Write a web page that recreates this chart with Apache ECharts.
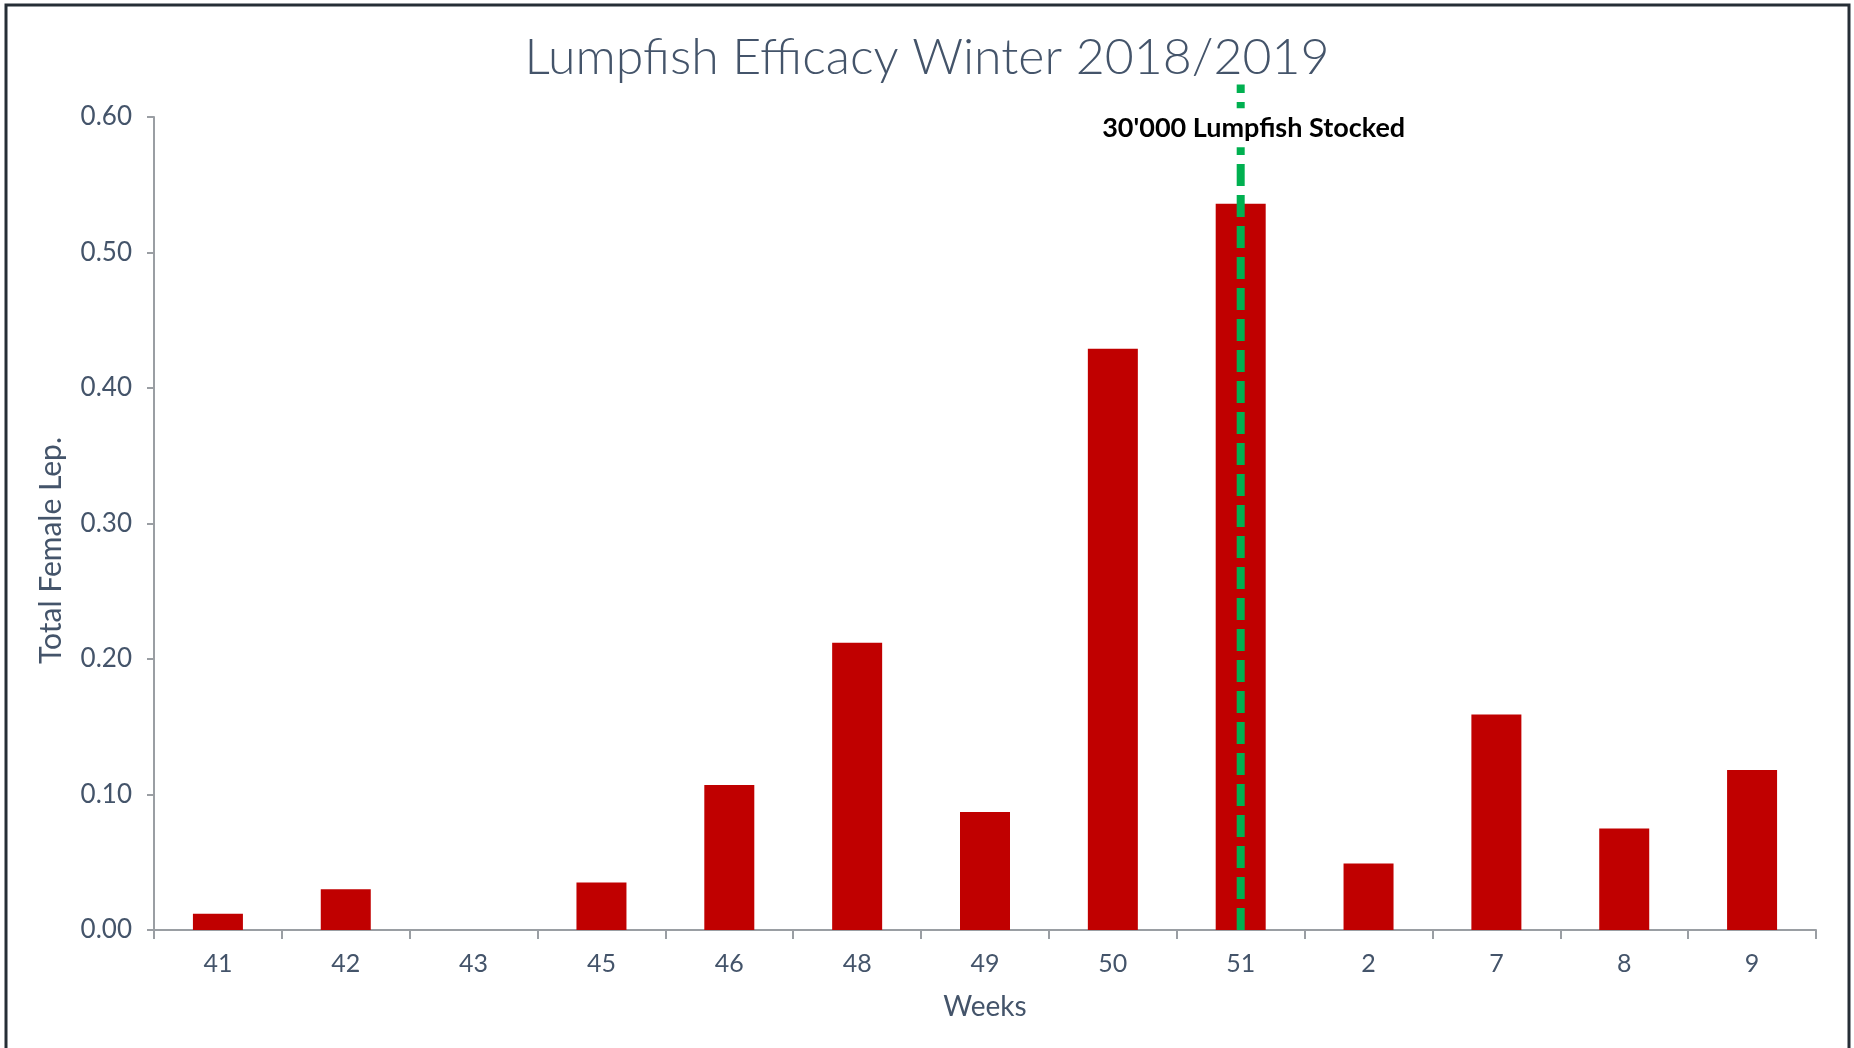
<!DOCTYPE html>
<html>
<head>
<meta charset="utf-8">
<title>Lumpfish Efficacy Winter 2018/2019</title>
<script src="https://cdn.jsdelivr.net/npm/echarts@6/dist/echarts.min.js"></script>
<style>
  html, body { margin: 0; padding: 0; background: #fff; overflow: hidden; }
  #chart { width: 1854px; height: 1048px; }
</style>
</head>
<body>
<div id="chart"></div>
<script>
// week numbers on the x axis
const weeks = ['41', '42', '43', '45', '46', '48', '49', '50', '51', '2', '7', '8', '9']
// total female lep. per week
const femaleLep = [0.012, 0.030, 0, 0.035, 0.107, 0.212, 0.087, 0.429, 0.536, 0.049, 0.159, 0.075, 0.118]
// week when the lumpfish were stocked: [week, top of the line, level of the text]
const stockedWeek = '51'
const stockedMark = [[stockedWeek, 0.624, 0.592]]
const stockedText = "30'000 Lumpfish Stocked"
const yTicks = { min: 0, max: 0.6, interval: 0.1 }

const textColor = '#44546A'
const axisColor = '#9A9EA3'

const chart = echarts.init(document.getElementById('chart'))

// dashed green line with its caption, placed through the axes
function renderStocked(params, api) {
  const bottom = api.coord([api.value(0), 0])
  const top = api.coord([api.value(0), api.value(1)])
  const textPos = api.coord([api.value(0), api.value(2)])
  return {
    type: 'group',
    children: [
      {
        type: 'line',
        shape: { x1: bottom[0], y1: bottom[1], x2: top[0], y2: top[1] },
        style: { stroke: '#00B050', lineWidth: 8, lineDash: [22, 9] },
      },
      {
        type: 'text',
        x: textPos[0] + 13,
        y: textPos[1],
        z2: 10,
        style: {
          text: stockedText,
          fontFamily: 'Lato',
          fontWeight: 'bold',
          fontSize: 27,
          fill: '#000',
          align: 'center',
          verticalAlign: 'middle',
          backgroundColor: '#fff',
          padding: [6, 4],
        },
      },
    ],
  }
}

const option = {
  backgroundColor: '#fff',
  animation: false,
  title: {
    text: 'Lumpfish Efficacy Winter 2018/2019',
    left: 'center',
    top: 28,
    textStyle: {
      fontFamily: 'Lato',
      fontWeight: 300,
      fontSize: 50,
      color: textColor,
    },
  },
  // frame around the chart area (bottom edge runs off the picture)
  graphic: [
    {
      type: 'rect',
      shape: { x: 6, y: 5, width: 1843, height: 1100 },
      style: { fill: 'none', stroke: '#262E36', lineWidth: 3 },
      silent: true,
    },
  ],
  grid: { left: 154, right: 38, top: 117, bottom: 118 },
  xAxis: {
    type: 'category',
    data: weeks,
    name: 'Weeks',
    nameLocation: 'middle',
    nameGap: 63,
    nameTextStyle: { fontFamily: 'Lato', fontSize: 28, color: textColor },
    axisLine: { lineStyle: { color: axisColor, width: 2 } },
    axisTick: { show: true, length: 9, lineStyle: { color: axisColor, width: 2 } },
    axisLabel: { fontFamily: 'Lato', fontSize: 25, color: textColor, margin: 21 },
  },
  yAxis: {
    type: 'value',
    min: yTicks.min,
    max: yTicks.max,
    interval: yTicks.interval,
    name: 'Total Female Lep.',
    nameLocation: 'middle',
    nameGap: 88,
    // right padding pushes the rotated name a little lower, like the original
    nameTextStyle: { fontFamily: 'Lato', fontSize: 30, color: textColor, padding: [0, 54, 0, 0] },
    splitLine: { show: false },
    axisLine: { show: true, lineStyle: { color: axisColor, width: 2 } },
    axisTick: { show: true, length: 7, lineStyle: { color: axisColor, width: 2 } },
    axisLabel: {
      fontFamily: 'Lato',
      fontSize: 26,
      color: textColor,
      margin: 22,
      formatter: (v) => v.toFixed(2),
    },
  },
  series: [
    {
      type: 'bar',
      data: femaleLep,
      barWidth: 50,
      itemStyle: { color: '#C00000' },
      z: 2,
    },
    {
      type: 'custom',
      data: stockedMark,
      renderItem: renderStocked,
      clip: false,
      silent: true,
      z: 10,
    },
  ],
}

chart.setOption(option)
</script>
</body>
</html>
